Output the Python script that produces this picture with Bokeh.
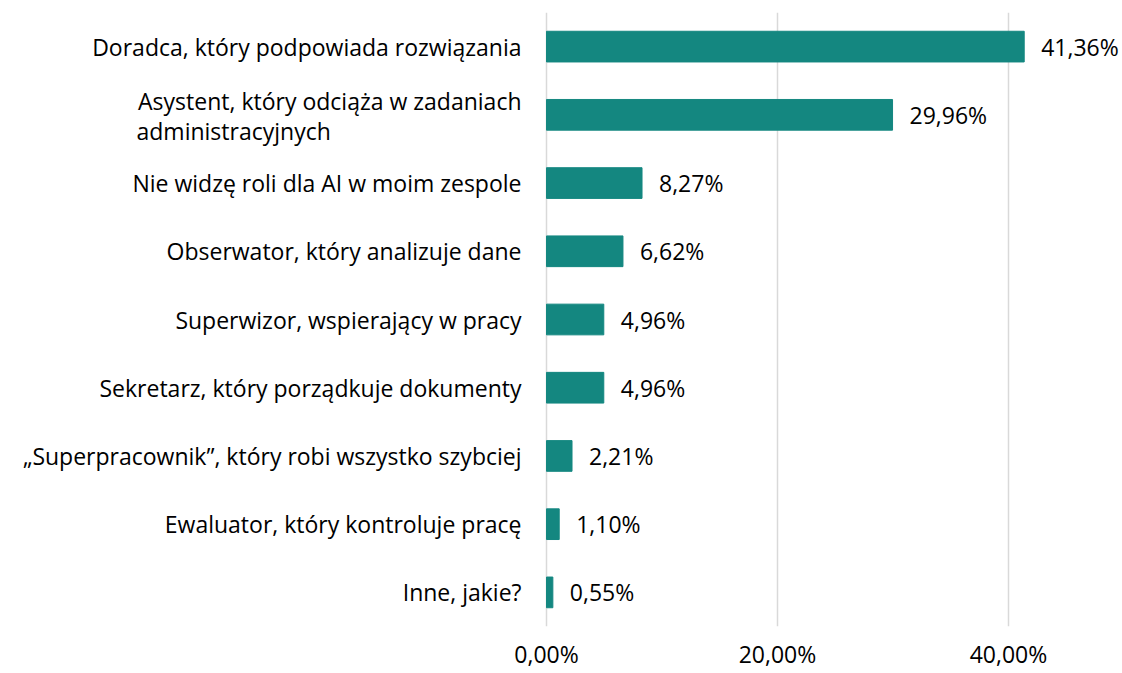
from bokeh.plotting import figure
from bokeh.models import ColumnDataSource, FactorRange, Range1d, FixedTicker, LabelSet
from bokeh.core.properties import value
from bokeh.embed import file_html
from bokeh.resources import INLINE

categories = [
    "Doradca, który podpowiada rozwiązania",
    "Asystent, który odciąża w zadaniach administracyjnych",
    "Nie widzę roli dla AI w moim zespole",
    "Obserwator, który analizuje dane",
    "Superwizor, wspierający w pracy",
    "Sekretarz, który porządkuje dokumenty",
    "„Superpracownik”, który robi wszystko szybciej",
    "Ewaluator, który kontroluje pracę",
    "Inne, jakie?",
]
values = [41.36, 29.96, 8.27, 6.62, 4.96, 4.96, 2.21, 1.10, 0.55]
value_labels = ["41,36%", "29,96%", "8,27%", "6,62%", "4,96%", "4,96%", "2,21%", "1,10%", "0,55%"]
tick_values = [0, 20, 40]
tick_labels = ["0,00%", "20,00%", "40,00%"]

# two-line label of the second category
asystent_line1 = "Asystent, który odciąża w zadaniach"
asystent_line2 = "administracyjnych"

FONT = "Open Sans"
FS = "23px"
BAR = "#148780"

W, H = 1120, 672
ZERO_PX = 546          # where 0 % sits horizontally
PX_PER = 11.55         # pixels per percentage point
x_start = -ZERO_PX / PX_PER
x_end = x_start + W / PX_PER

single = [c if c != categories[1] else "" for c in categories]

src = ColumnDataSource(dict(cat=categories, val=values, vlab=value_labels, clab=single,
                            zero=[0] * len(categories)))
src1 = ColumnDataSource(dict(cat=[categories[1]], x=[0], t=[asystent_line1]))
src2 = ColumnDataSource(dict(cat=[categories[1]], x=[0], t=[asystent_line2]))

p = figure(
    width=W, height=H,
    y_range=FactorRange(factors=categories[::-1]),
    x_range=Range1d(x_start, x_end),
    output_backend="svg", toolbar_location=None,
    min_border_left=0, min_border_right=0, min_border_top=12, min_border_bottom=40,
)
p.outline_line_color = None
p.background_fill_color = "white"
p.border_fill_color = "white"

p.xgrid.ticker = FixedTicker(ticks=tick_values)
p.xgrid.grid_line_color = "#d9d9d9"
p.xgrid.grid_line_width = 1.5
p.ygrid.grid_line_color = None

p.hbar(y="cat", right="val", left=0, height=0.45, source=src, color=BAR)

p.xaxis.ticker = FixedTicker(ticks=tick_values)
p.xaxis.major_label_overrides = {t: l for t, l in zip(tick_values, tick_labels)}
p.xaxis.axis_line_color = None
p.xaxis.major_tick_line_color = None
p.xaxis.minor_tick_line_color = None
p.xaxis.major_label_standoff = 5
p.xaxis.major_label_text_font = FONT
p.xaxis.major_label_text_font_size = FS
p.xaxis.major_label_text_color = "black"

p.yaxis.visible = False

common = dict(text_font=value(FONT), text_font_size=value(FS), text_color="black",
              text_baseline="middle")
p.add_layout(LabelSet(x="zero", y="cat", text="clab", source=src, x_offset=-25,
                      text_align="right", **common))
p.add_layout(LabelSet(x="val", y="cat", text="vlab", source=src, x_offset=17,
                      text_align="left", **common))
p.add_layout(LabelSet(x="x", y="cat", text="t", source=src1, x_offset=-25, y_offset=14,
                      text_align="right", **common))
p.add_layout(LabelSet(x="x", y="cat", text="t", source=src2, x_offset=-410, y_offset=-16,
                      text_align="left", **common))

open("out.html", "w").write(file_html(p, INLINE))
